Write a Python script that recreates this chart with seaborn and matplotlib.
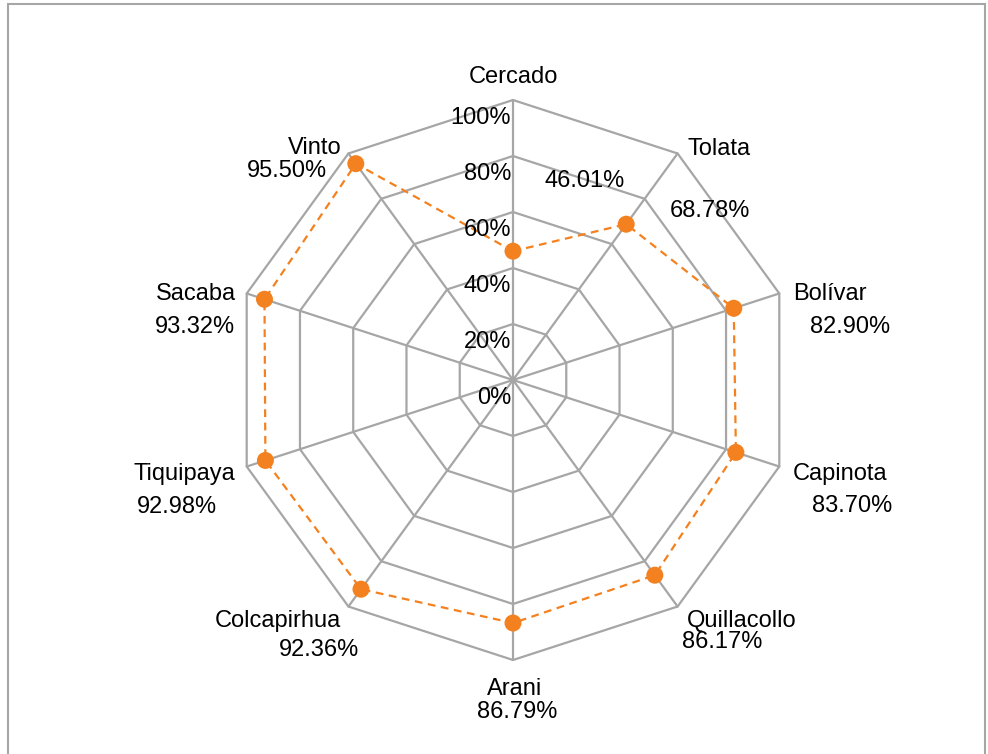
import numpy as np
import pandas as pd
import seaborn as sns
import matplotlib.pyplot as plt
from matplotlib.patches import Rectangle

# data
municipios = ['Cercado', 'Tolata', 'Bolívar', 'Capinota', 'Quillacollo',
              'Arani', 'Colcapirhua', 'Tiquipaya', 'Sacaba', 'Vinto']
valores = [46.01, 68.78, 82.90, 83.70, 86.17, 86.79, 92.36, 92.98, 93.32, 95.50]
ticks = [0, 20, 40, 60, 80, 100]
tick_labels = ['0%', '20%', '40%', '60%', '80%', '100%']

# label placement (pixel centres in the 988x754 image)
cat_pos = [(513, 77), (719, 149), (830, 294), (840, 474), (742, 621),
           (515, 689), (278, 621), (184, 474), (196, 294), (315, 148)]
val_pos = [(585, 181), (710, 211), (850, 327), (852, 506), (722, 642),
           (517, 712), (319, 650), (177, 507), (195, 327), (287, 171)]

sns.set_style('white')
plt.rcParams['font.family'] = ['Liberation Sans', 'DejaVu Sans']
plt.rcParams['text.color'] = 'black'

W, H = 988, 754
cx, cy, R = 513, 380, 280

fig = plt.figure(figsize=(W / 100, H / 100), dpi=100)
ax = fig.add_axes([0, 0, 1, 1])
ax.set_xlim(-cx / R, (W - cx) / R)
ax.set_ylim(-(H - cy) / R, cy / R)
ax.axis('off')

n = len(municipios)
ang = np.arange(n) * 2 * np.pi / n  # clockwise from top
grid_col = '#A6A6A6'
orange = '#F4811F'

# polygon grid
for t in ticks[1:]:
    r = t / 100
    xs = np.append(r * np.sin(ang), 0)
    ys = np.append(r * np.cos(ang), r)
    ax.plot(xs, ys, color=grid_col, lw=1.6, zorder=1)
for a in ang:
    ax.plot([0, np.sin(a)], [0, np.cos(a)], color=grid_col, lw=1.6, zorder=1)

# series
df = pd.DataFrame({'municipio': municipios, 'valor': valores})
df['x'] = df['valor'] / 100 * np.sin(ang)
df['y'] = df['valor'] / 100 * np.cos(ang)
closed = pd.concat([df, df.iloc[[0]]], ignore_index=True)
sns.lineplot(data=closed, x='x', y='y', sort=False, estimator=None, ax=ax,
             color=orange, lw=1.6, linestyle=(0, (3.5, 2.5)), zorder=3)
sns.scatterplot(data=df, x='x', y='y', ax=ax, color=orange, s=150,
                edgecolor='none', zorder=4)
ax.set_xlabel('')
ax.set_ylabel('')

fs = 17
# radial tick labels
for t, lab in zip(ticks, tick_labels):
    py = cy - t / 100 * R + 18
    fig.text(511 / W, 1 - py / H, lab, ha='right', va='center', fontsize=fs)

# category and value labels
for name, (px, py) in zip(municipios, cat_pos):
    fig.text(px / W, 1 - py / H, name, ha='center', va='center', fontsize=fs)
for v, (px, py) in zip(valores, val_pos):
    fig.text(px / W, 1 - py / H, f'{v:.2f}%', ha='center', va='center', fontsize=fs)

# outer chart border
fig.patches.append(Rectangle((8 / W, -0.05), (985 - 8) / W, 1.05 - 3.5 / H,
                             transform=fig.transFigure, fill=False,
                             edgecolor=grid_col, lw=1.5))

fig.savefig('out.png', dpi=100)
